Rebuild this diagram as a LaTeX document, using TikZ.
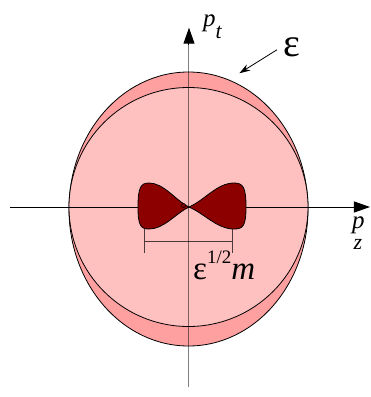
\documentclass[tikz,border=0pt]{standalone}
\usepackage{fontspec}
\setmainfont{Liberation Serif}[ItalicFont={Liberation Serif Italic}]
\usetikzlibrary{arrows.meta}
\definecolor{shell}{RGB}{255,160,160}
\definecolor{disc}{RGB}{255,192,192}
\definecolor{bow}{RGB}{140,0,0}
\tikzset{axis/.style = {line width=1pt, -{Triangle[length=16pt,width=11pt]}}}
\tikzset{pointer/.style = {line width=0.8pt, -{Stealth[length=11pt,width=7pt]}}}
\tikzset{span/.style = {line width=0.9pt, draw opacity=0.7,
                        {Bar[width=24pt]}-{Bar[width=24pt]}}}
\tikzset{lbl/.style = {inner sep=0, anchor=base west}}

\begin{document}
\begin{tikzpicture}[x=1pt,y=1pt]
  \useasboundingbox (-189,-190) rectangle (182,207);

  \filldraw[fill=shell, line width=0.8pt] (-0.5,-2) ellipse [x radius=119.5, y radius=137];
  \filldraw[fill=disc, line width=0.8pt] (-0.5,0) circle (119.5);

  \coordinate (zl) at (-179,0);
  \coordinate (zr) at (181,0);
  \draw[axis] (zl) -- (zr);

  \filldraw[fill=bow, line width=0.8pt] (0,0)
     .. controls (16,7) and (28,24) .. (45,24)
     .. controls (54,24) and (57,20) .. (57,0)
     .. controls (57,-19) and (54,-22) .. (45,-22)
     .. controls (28,-22) and (16,-7) .. (0,0)
     .. controls (-14,7) and (-25,24) .. (-40,24)
     .. controls (-48,24) and (-51,20) .. (-51,0)
     .. controls (-51,-19) and (-48,-22) .. (-40,-22)
     .. controls (-25,-22) and (-14,-7) .. (0,0);
  \filldraw[fill=bow, line width=0.6pt] (-5.5,1.5) circle (2);

  \coordinate (bl) at (-45,-34);
  \coordinate (br) at (44,-34);
  \draw[span] (bl) -- (br);

  \coordinate (tb) at (0,-180);
  \coordinate (tt) at (0,179.3);
  \draw[line width=1pt, draw opacity=0.5] (tb) -- ([yshift=-16]tt);
  \draw[axis] ([yshift=-17]tt) -- (tt);

  \node[lbl] (pt) at (14,180.5)
    {\fontsize{25}{25}\selectfont\itshape p\raisebox{-11.5pt}{\fontsize{22}{22}\selectfont t}};
  \node[lbl] (pz) at (163,-21.5)
    {\fontsize{25}{25}\selectfont\itshape p\kern-11pt\raisebox{-20.5pt}{\fontsize{22}{22}\selectfont z}};
  \node[lbl] (eps) at (94,151) {\fontsize{40}{40}\selectfont ε};
  \node[lbl] (wd) at (4,-72)
    {\fontsize{33}{33}\selectfont ε\raisebox{16pt}{\fontsize{19}{19}\selectfont 1/2}\textit{m}};

  \coordinate (rim) at (50.3,133.7);
  \draw[pointer] ([shift={(-6,-3)}]eps.west) -- (rim);
\end{tikzpicture}
\end{document}
